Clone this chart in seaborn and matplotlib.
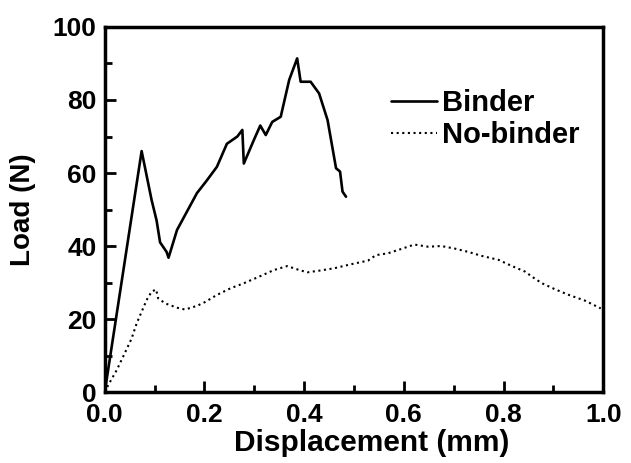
import numpy as np
import pandas as pd
import matplotlib
matplotlib.use("Agg")
import matplotlib.pyplot as plt
import seaborn as sns
from matplotlib.ticker import MultipleLocator

# Load-displacement curves
binder_disp = [0, 0.074, 0.094, 0.104, 0.111, 0.124, 0.128, 0.145, 0.185, 0.205,
               0.225, 0.245, 0.266, 0.276, 0.279, 0.299, 0.312, 0.323, 0.336, 0.353,
               0.370, 0.386, 0.393, 0.413, 0.430, 0.447, 0.464, 0.472, 0.477, 0.484]
binder_load = [0, 66, 52.6, 47, 41, 38.4, 36.8, 44.4, 54.5, 58,
               61.7, 68, 70, 71.8, 62.6, 69, 73, 70.4, 74, 75.4,
               85.5, 91.4, 85, 85, 81.8, 74.5, 61.3, 60.4, 54.9, 53.5]

nobinder_disp = [0, 0.007, 0.024, 0.040, 0.054, 0.064, 0.074, 0.084, 0.094, 0.103,
                 0.107, 0.121, 0.145, 0.161, 0.185, 0.202, 0.225, 0.252, 0.279, 0.313,
                 0.339, 0.366, 0.393, 0.407, 0.433, 0.460, 0.494, 0.528, 0.544, 0.568,
                 0.595, 0.621, 0.649, 0.675, 0.702, 0.729, 0.756, 0.790, 0.817, 0.843,
                 0.857, 0.877, 0.904, 0.931, 0.964, 0.995]
nobinder_load = [0, 1.9, 6, 10.6, 14.7, 18.8, 22, 25.2, 27.5, 28.1,
                 25.7, 24.3, 23.1, 22.6, 23.6, 24.7, 26.6, 28.4, 29.8, 31.8,
                 33.4, 34.5, 33.3, 32.8, 33.3, 33.9, 35, 36, 37.5, 38,
                 39.2, 40.4, 39.8, 40, 39.3, 38.4, 37.3, 36.2, 34.5, 33,
                 31.6, 29.8, 28.1, 26.6, 25, 22.9]

series_names = ["Binder", "No-binder"]
x_ticks = [0.0, 0.2, 0.4, 0.6, 0.8, 1.0]
y_ticks = [0, 20, 40, 60, 80, 100]

sns.set_style("ticks")
plt.rcParams["font.family"] = ["Liberation Sans", "DejaVu Sans"]
plt.rcParams["font.weight"] = "bold"
plt.rcParams["text.color"] = "black"
plt.rcParams["axes.labelcolor"] = "black"
plt.rcParams["xtick.color"] = "black"
plt.rcParams["ytick.color"] = "black"

df_b = pd.DataFrame({"disp": binder_disp, "load": binder_load})
df_n = pd.DataFrame({"disp": nobinder_disp, "load": nobinder_load})

fig = plt.figure(figsize=(6.31, 4.63), dpi=100)
ax = fig.add_axes([0.166, 0.1533, 0.790, 0.7884])

sns.lineplot(data=df_b, x="disp", y="load", ax=ax, color="black", lw=1.9,
             sort=False, estimator=None, label=series_names[0])
sns.lineplot(data=df_n, x="disp", y="load", ax=ax, color="black", lw=1.5,
             linestyle=(0, (1, 1.7)), sort=False, estimator=None,
             label=series_names[1])

ax.set_xlim(0, 1.0)
ax.set_ylim(0, 100)
ax.set_xticks(x_ticks)
ax.set_xticklabels([f"{v:.1f}" for v in x_ticks])
ax.set_yticks(y_ticks)
ax.set_yticklabels([str(v) for v in y_ticks])
ax.xaxis.set_minor_locator(MultipleLocator(0.1))
ax.yaxis.set_minor_locator(MultipleLocator(10))

ax.tick_params(which="both", direction="in", color="black", width=2,
               labelsize=19, labelcolor="black", top=False, right=False)
ax.tick_params(which="major", length=8)
ax.tick_params(which="minor", length=5)
ax.tick_params(axis="y", pad=6)
ax.tick_params(axis="x", pad=8)
for lab in ax.get_xticklabels() + ax.get_yticklabels():
    lab.set_fontweight("bold")

for side in ["left", "bottom", "top", "right"]:
    ax.spines[side].set_visible(True)
    ax.spines[side].set_linewidth(2.5)
    ax.spines[side].set_color("black")

ax.set_xlabel("Displacement (mm)", fontsize=21.5, fontweight="bold",
              labelpad=1, x=0.536, color="black")
ax.set_ylabel("Load (N)", fontsize=20, fontweight="bold", labelpad=12,
              color="black")

leg = ax.legend(loc="upper left", bbox_to_anchor=(0.575, 0.83), frameon=False,
                fontsize=21, handlelength=1.55, handletextpad=0.2,
                labelspacing=0.15, borderpad=0, borderaxespad=0)
for t in leg.get_texts():
    t.set_fontweight("bold")
    t.set_color("black")

fig.savefig("out.png", dpi=100, facecolor="white")
